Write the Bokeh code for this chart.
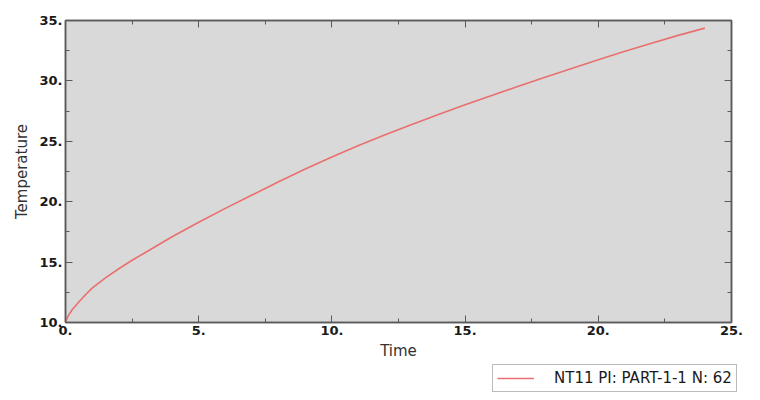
from bokeh.plotting import figure
from bokeh.layouts import column
from bokeh.models import (LinearAxis, SingleIntervalTicker, PrintfTickFormatter,
                          Legend, LegendItem, Range1d)
from bokeh.embed import file_html
from bokeh.resources import INLINE

# Data
time = [0, 0.1, 0.25, 0.5, 0.75, 1, 1.5, 2, 2.5, 3, 4, 5, 6, 7, 8, 9, 10,
        11, 12, 13, 14, 15, 16, 17, 18, 19, 20, 21, 22, 23, 24]
temperature = [10.0, 10.55, 11.05, 11.7, 12.3, 12.85, 13.7, 14.45, 15.15, 15.8,
               17.1, 18.3, 19.45, 20.55, 21.65, 22.7, 23.7, 24.65, 25.55, 26.4,
               27.22, 28.02, 28.8, 29.55, 30.3, 31.02, 31.75, 32.45, 33.12,
               33.77, 34.37]
series_label = "NT11 PI: PART-1-1 N: 62"
x_label = "Time"
y_label = "Temperature"

FONT = "DejaVu Sans"
TXT = "#1a1a1a"
AX = "#5a5a5a"
LINE = "#e8706f"

p = figure(width=752, height=362, output_backend="svg", toolbar_location=None,
           x_range=Range1d(0, 25), y_range=Range1d(10, 35),
           x_axis_location=None, y_axis_location=None,
           min_border_left=65, min_border_right=21, min_border_top=20,
           min_border_bottom=39)
p.background_fill_color = "#d9d9d9"
p.border_fill_color = "white"
p.outline_line_color = AX
p.outline_line_width = 1.5
p.grid.visible = False


def style_axis(ax, labels=True):
    ax.ticker = SingleIntervalTicker(interval=5, num_minor_ticks=2)
    ax.formatter = PrintfTickFormatter(format="%d.")
    ax.major_tick_in = 7
    ax.major_tick_out = 0
    ax.minor_tick_in = 4
    ax.minor_tick_out = 0
    ax.major_tick_line_color = AX
    ax.minor_tick_line_color = AX
    ax.axis_line_color = AX
    ax.axis_line_width = 1.5
    if labels:
        ax.major_label_text_font = FONT
        ax.major_label_text_font_size = "13px"
        ax.major_label_text_font_style = "bold"
        ax.major_label_text_color = TXT
        ax.major_label_standoff = 3
        ax.axis_label_text_font = FONT
        ax.axis_label_text_font_size = "15px"
        ax.axis_label_text_font_style = "normal"
        ax.axis_label_text_color = "#333333"
        ax.axis_label_standoff = 4
    else:
        ax.major_label_text_font_size = "6px"
        ax.major_label_text_color = None
        ax.major_label_standoff = 0


xb = LinearAxis(axis_label=x_label)
style_axis(xb)
yl = LinearAxis(axis_label=y_label)
style_axis(yl)
yl.major_label_orientation = "horizontal"
yl.axis_label_standoff = 5
xt = LinearAxis()
style_axis(xt, labels=False)
yr = LinearAxis()
style_axis(yr, labels=False)
p.add_layout(xb, "below")
p.add_layout(yl, "left")
p.add_layout(xt, "above")
p.add_layout(yr, "right")

p.line(time, temperature, line_color=LINE, line_width=1.6)

# Legend strip under the chart
p2 = figure(width=752, height=32, output_backend="svg", toolbar_location=None,
            x_range=Range1d(0, 25), y_range=Range1d(100, 200),
            x_axis_location=None, y_axis_location=None,
            min_border_left=0, min_border_right=0, min_border_top=0,
            min_border_bottom=0)
p2.outline_line_color = None
p2.background_fill_color = "white"
p2.border_fill_color = "white"
p2.grid.visible = False
for fig in (p, p2):
    if "frame_align" in fig.properties():
        fig.frame_align = False
r2 = p2.line(time, temperature, line_color=LINE, line_width=1.5)

legend = Legend(items=[LegendItem(label=series_label, renderers=[r2])],
                location=(492, 2), orientation="vertical",
                label_text_font=FONT, label_text_font_size="15px",
                label_text_color=TXT, glyph_width=37, glyph_height=14,
                label_height=14, label_standoff=20, padding=4, margin=0,
                spacing=0, border_line_color="#777777", border_line_width=1.5,
                background_fill_color="white", background_fill_alpha=1)
p2.add_layout(legend, "center")

open("out.html", "w").write(file_html(column(p, p2, spacing=0), INLINE))
